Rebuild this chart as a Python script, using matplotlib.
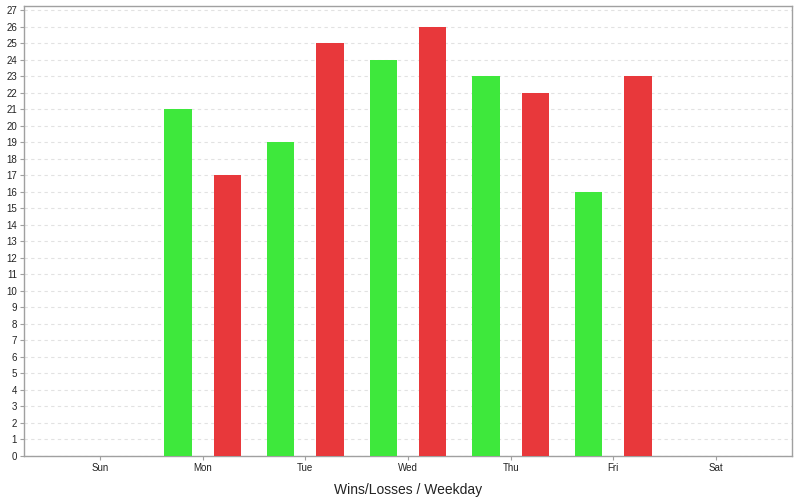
import numpy as np
import matplotlib.pyplot as plt

plt.rcParams['font.family'] = ['Liberation Sans', 'DejaVu Sans']

# Wins / losses per weekday
Days   = ["Sun", "Mon", "Tue", "Wed", "Thu", "Fri", "Sat"]
Wins   = [0, 21, 19, 24, 23, 16, 0]
Losses = [0, 17, 25, 26, 22, 23, 0]

GreenCol = "#3ee83c"
RedCol   = "#e8383b"
EdgeCol  = "#a0a0a0"

fig = plt.figure(figsize=(8, 5), dpi=100)
ax = fig.add_axes([0.03, 0.088, 0.96, 0.9])

x = np.arange(len(Days))
BarW = 0.265
ax.bar(x - 0.24, Wins, BarW, color=GreenCol, zorder=3)
ax.bar(x + 0.24, Losses, BarW, color=RedCol, zorder=3)

ax.set_xlim(-0.74, len(Days) - 1 + 0.74)
ax.set_ylim(0, 27.25)
ax.set_xticks(x)
ax.set_xticklabels(Days)
ax.set_yticks(np.arange(0, 28, 1))

ax.tick_params(axis="both", labelsize=7, length=3, color=EdgeCol, pad=2, labelcolor="#222222")
ax.yaxis.grid(True, linestyle=(0, (3, 3)), color="#e2e2e2", linewidth=0.8, zorder=0)
for s in ax.spines.values():
    s.set_color(EdgeCol)
    s.set_linewidth(1)

ax.set_xlabel("Wins/Losses / Weekday", fontsize=10, labelpad=7, color="#222222")

fig.savefig("out.png", dpi=100)
